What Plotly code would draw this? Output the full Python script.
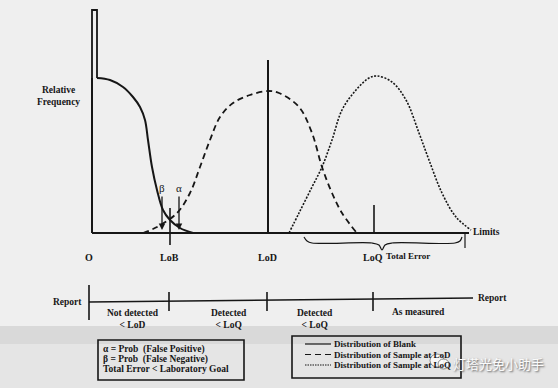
import plotly.graph_objects as go

# ---- data (diagram coordinates: x to the right, y downward) ----
spike_x = [92, 92, 97, 97]
spike_y = [233, 10, 10, 78]

blank_x = [97, 110, 123, 133, 140, 145, 148, 152, 157, 163, 170, 180, 193]
blank_y = [78, 80, 87, 97, 107, 120, 140, 167, 190, 210, 220, 228, 233]

lod_x = [143, 157, 177, 190, 200, 210, 220, 233, 250, 268, 279, 299, 312, 322, 332, 342, 356]
lod_y = [233, 227, 213, 193, 167, 140, 117, 103, 95, 91, 93, 107, 133, 167, 193, 213, 232]

loq_x = [289, 299, 312, 322, 332, 342, 356, 369, 377, 392, 406, 419, 429, 442, 456, 471]
loq_y = [233, 213, 187, 167, 140, 110, 90, 78, 76, 82, 100, 133, 160, 193, 217, 230]

limit_names = ["O", "LoB", "LoD", "LoQ"]
limit_x = [89, 169, 267, 373]

report_labels = ["Not detected<br>< LoD", "Detected<br>< LoQ", "Detected<br>< LoQ", "As measured"]
report_label_x = [133, 229, 315, 418]

legend_names = ["Distribution of Blank", "Distribution of Sample at LoD", "Distribution of Sample at LoQ"]
definitions = ["α = Prob  (False Positive)", "β = Prob  (False Negative)", "Total Error < Laboratory Goal"]

INK = "#161616"
FONT = "Liberation Serif"

fig = go.Figure()

def line(xs, ys, width=1.8, dash="solid", shape="linear"):
    fig.add_trace(go.Scatter(x=xs, y=ys, mode="lines", hoverinfo="skip",
                             line=dict(color=INK, width=width, dash=dash, shape=shape),
                             showlegend=False))

# background bands (scanned paper)
fig.add_shape(type="rect", x0=0, x1=558, y0=326, y1=344, xref="x", yref="y",
              fillcolor="#d9d9d9", line_width=0, layer="below")
fig.add_shape(type="rect", x0=0, x1=558, y0=344, y1=388, xref="x", yref="y",
              fillcolor="#e5e5e5", line_width=0, layer="below")

# axes of the distribution diagram
line(spike_x, spike_y, 1.8)
line([92, 92], [78, 233], 1.8)
line([92, 469], [233, 233], 1.8)

# curves
line(blank_x, blank_y, 2.0, "solid", "spline")
line(lod_x, lod_y, 1.8, "6px,4px", "spline")
line(loq_x, loq_y, 1.6, "2px,1.5px", "spline")

# vertical markers
line([170, 170], [208, 245], 1.6)
line([268, 268], [60, 233], 2.0)
line([374, 374], [205, 233], 1.6)
line([465, 465], [233, 248], 1.2)

# brace for Total Error
brace_x = [304, 307, 312, 372, 379, 382, 385, 392, 455, 460, 462]
brace_y = [237, 241, 243, 243, 245, 250, 245, 243, 243, 241, 237]
line(brace_x, brace_y, 1.2, "solid", "spline")

# alpha / beta arrows
for xa, lab in [(162, "β"), (179, "α")]:
    fig.add_annotation(x=xa, y=230, ax=xa, ay=195, xref="x", yref="y", axref="x", ayref="y",
                       showarrow=True, arrowhead=2, arrowsize=1, arrowwidth=1.3,
                       arrowcolor=INK, text="")
    fig.add_annotation(x=xa, y=188, text=lab, showarrow=False,
                       font=dict(family=FONT, size=11, color=INK))

# labels of the limits
for name, xv in zip(limit_names, limit_x):
    fig.add_annotation(x=xv, y=257, text="<b>%s</b>" % name, showarrow=False,
                       font=dict(family=FONT, size=10, color=INK))
fig.add_annotation(x=408, y=256, text="<b>Total Error</b>", showarrow=False,
                   font=dict(family=FONT, size=9, color=INK))
fig.add_annotation(x=471, y=232, text="<b>Limits</b>", showarrow=False, xanchor="left",
                   font=dict(family=FONT, size=9.5, color=INK))
fig.add_annotation(x=58, y=96, text="<b>Relative<br>Frequency</b>", showarrow=False,
                   font=dict(family=FONT, size=9.5, color=INK))

# report line
line([89, 473], [302, 298], 1.6)
line([89, 89], [285, 320], 1.6)
for xv in limit_x[1:]:
    line([xv, xv], [292, 311], 1.6)
fig.add_annotation(x=67, y=302, text="<b>Report</b>", showarrow=False,
                   font=dict(family=FONT, size=9.5, color=INK))
fig.add_annotation(x=492, y=298, text="<b>Report</b>", showarrow=False,
                   font=dict(family=FONT, size=9.5, color=INK))
for lab, xv in zip(report_labels, report_label_x):
    fig.add_annotation(x=xv, y=312 if "<br>" not in lab else 319, text="<b>%s</b>" % lab,
                       showarrow=False,
                       font=dict(family=FONT, size=9.5, color=INK))

# definitions box
fig.add_shape(type="rect", x0=98, x1=244, y0=340, y1=380, xref="x", yref="y",
              line=dict(color=INK, width=1.6))
for i, t in enumerate(definitions):
    fig.add_annotation(x=101, y=349.5 + 9.5 * i, text="<b>%s</b>" % t, showarrow=False,
                       xanchor="left", font=dict(family=FONT, size=9.5, color=INK))

# legend box
fig.add_shape(type="rect", x0=292, x1=461, y0=336, y1=378, xref="x", yref="y",
              line=dict(color=INK, width=1.6))
for i, (t, d) in enumerate(zip(legend_names, ["solid", "6px,4px", "1.5px,1px"])):
    yy = 344 + 10.5 * i
    line([305, 331], [yy, yy], 1.2, d)
    fig.add_annotation(x=332, y=yy, text="<b>%s</b>" % t, showarrow=False,
                       xanchor="left", font=dict(family=FONT, size=9, color=INK))

# watermark (logo drawn as shapes, caption as text)
fig.add_shape(type="circle", x0=430, x1=444, y0=354, y1=367, xref="x", yref="y",
              fillcolor="rgba(250,250,250,0.85)", line=dict(color="#888", width=1))
fig.add_shape(type="circle", x0=438, x1=449, y0=359, y1=369, xref="x", yref="y",
              fillcolor="rgba(250,250,250,0.85)", line=dict(color="#888", width=1))
fig.add_annotation(x=451, y=363, text="灯塔光免小助手", showarrow=False, xanchor="left",
                   font=dict(family="Noto Sans CJK SC", size=13, color="#fbfbfb",
                             shadow="1px 1px 2px #555"))

fig.update_layout(
    width=558, height=388, margin=dict(l=0, r=0, t=0, b=0),
    paper_bgcolor="#efefef", plot_bgcolor="#efefef",
    xaxis=dict(range=[0, 558], visible=False, fixedrange=True),
    yaxis=dict(range=[388, 0], visible=False, fixedrange=True),
    showlegend=False,
)

fig.write_html("out.html", config={"displayModeBar": False},
               post_script="document.body.style.margin='0';document.body.style.background='#efefef';")
